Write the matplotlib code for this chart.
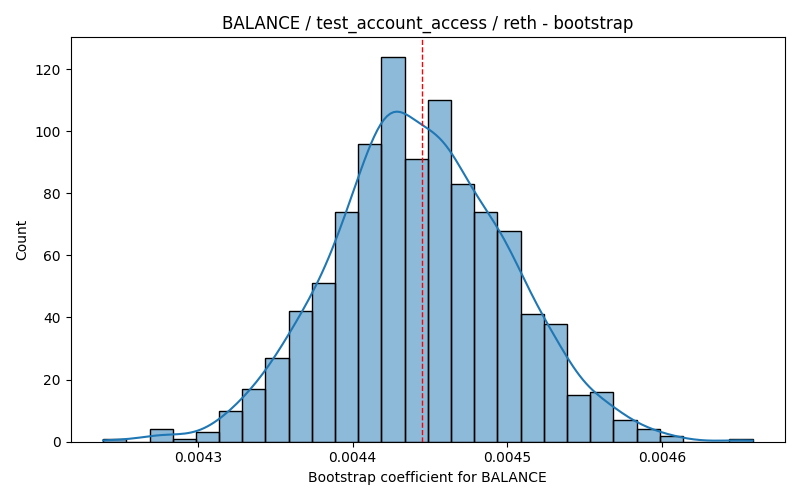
import numpy as np
import matplotlib
matplotlib.use("Agg")
from matplotlib import pyplot as plt

# histogram (28 equal bins)
bin_start = 0.0042387
bin_width = 1.5e-5
counts = [1, 0, 4, 1, 3, 10, 17, 27, 42, 51, 74, 96, 124, 91,
          110, 83, 74, 68, 41, 38, 15, 16, 7, 4, 2, 0, 0, 1]
mean_value = 0.004445

title = "BALANCE / test_account_access / reth - bootstrap"
xlabel = "Bootstrap coefficient for BALANCE"
ylabel = "Count"

edges = bin_start + bin_width * np.arange(len(counts) + 1)
centers = (edges[:-1] + edges[1:]) / 2

# gaussian kde (scott) on the binned samples, scaled to counts
samples = np.repeat(centers, counts)
n = len(samples)
bw = samples.std(ddof=1) * n ** (-1 / 5)
grid = np.linspace(edges[0], edges[-1], 200)
dens = np.exp(-0.5 * ((grid[:, None] - samples[None, :]) / bw) ** 2).sum(axis=1)
dens = dens / (n * bw * np.sqrt(2 * np.pi))
kde_counts = dens * n * bin_width

fig, ax = plt.subplots(figsize=(8, 5), dpi=100)
ax.bar(edges[:-1], counts, width=bin_width, align="edge",
       color="#1f77b4", alpha=0.5, edgecolor="none")
ax.bar(edges[:-1], counts, width=bin_width, align="edge",
       fill=False, edgecolor="black", linewidth=1)
ax.plot(grid, kde_counts, color="#1f77b4", linewidth=1.5)
ax.axvline(mean_value, color="red", linestyle="--", linewidth=1)

ax.set_title(title)
ax.set_xlabel(xlabel)
ax.set_ylabel(ylabel)
ax.set_yticks(range(0, 121, 20))
ax.set_xticks([0.0043, 0.0044, 0.0045, 0.0046])
ax.set_xticklabels(["0.0043", "0.0044", "0.0045", "0.0046"])

plt.tight_layout()
plt.savefig("out.png")
